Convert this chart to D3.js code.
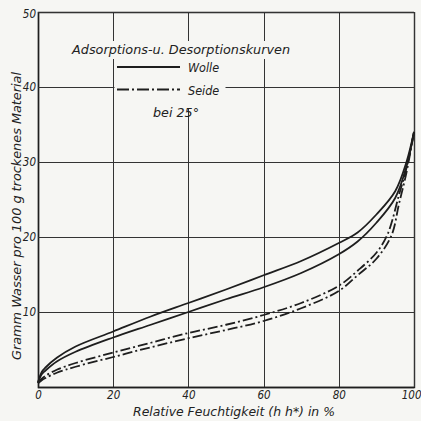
<!DOCTYPE html>
<html><head><meta charset="utf-8">
<script src="https://cdn.jsdelivr.net/npm/d3@7/dist/d3.min.js"></script>
<style>
html,body{margin:0;padding:0;background:#f6f6f3;}
text{font-family:"DejaVu Sans Condensed","DejaVu Sans","Liberation Sans Narrow",sans-serif;font-style:italic;fill:#222;}
</style></head>
<body><svg id="c" width="421" height="421"></svg>
<script>
const xTicks = [0, 20, 40, 60, 80, 100];
const yTicks = [0, 10, 20, 30, 40, 50];
const woolDesX = [0, 1, 2, 5, 10, 20, 30, 40, 50, 60, 70, 80, 85, 90, 95, 98, 100];
const woolDesY = [0.6, 2.0, 2.6, 3.9, 5.4, 7.4, 9.4, 11.2, 13.0, 14.9, 16.8, 19.2, 20.6, 23.0, 26.1, 30.0, 34.0];
const woolAdsX = [0, 1, 2, 5, 10, 20, 30, 40, 50, 60, 70, 80, 85, 90, 95, 98, 100];
const woolAdsY = [0.6, 1.7, 2.2, 3.4, 4.7, 6.6, 8.3, 10.0, 11.7, 13.3, 15.2, 17.7, 19.4, 21.9, 25.2, 29.4, 34.0];
const silkDesX = [0, 1, 2, 5, 10, 20, 30, 40, 50, 60, 70, 80, 85, 90, 93, 96, 98, 100];
const silkDesY = [0.5, 1.1, 1.5, 2.3, 3.2, 4.6, 5.9, 7.2, 8.3, 9.6, 11.2, 13.5, 15.5, 17.9, 20.4, 25.6, 29.2, 34.0];
const silkAdsX = [0, 1, 2, 5, 10, 20, 30, 40, 50, 60, 70, 80, 85, 90, 94, 96, 98, 100];
const silkAdsY = [0.5, 0.9, 1.2, 1.9, 2.7, 4.0, 5.3, 6.5, 7.6, 8.8, 10.5, 12.8, 14.9, 17.1, 20.2, 24.4, 28.6, 34.0];
const legendLabels = ["Wolle", "Seide"];
const titleText = "Adsorptions-u. Desorptionskurven";
const tempText = "bei 25°";
const xTitle = "Relative  Feuchtigkeit (h h*) in %";
const yTitle = "Gramm  Wasser  pro  100 g  trockenes  Material";

const svg = d3.select("#c");
const x = d3.scaleLinear().domain([0, 100]).range([38, 414]);
const y = d3.scaleLinear().domain([0, 50]).range([387, 12]);
const ink = "#1e1e1e";
const fam = '"DejaVu Sans Condensed","DejaVu Sans",sans-serif';

// grid via axes
const gx = svg.append("g").attr("transform", `translate(0,${y(0)})`)
  .call(d3.axisBottom(x).tickValues(xTicks).tickSize(-(y(0) - y(50))).tickPadding(5).tickFormat(d => d));
gx.select(".domain").attr("stroke", ink).attr("stroke-width", 1.4);
gx.selectAll(".tick line").attr("stroke", "#333").attr("stroke-width", 1);
gx.selectAll(".tick text").attr("font-size", 11.5).attr("fill", "#222").attr("dy", "0.6em")
  .attr("font-family", fam).attr("font-style", "italic")
  .filter(d => d === 100).attr("text-anchor", "end").attr("dx", 7);

const gy = svg.append("g").attr("transform", `translate(${x(0)},0)`)
  .call(d3.axisLeft(y).tickValues(yTicks.slice(1)).tickSize(-(x(100) - x(0))).tickPadding(2).tickFormat(d => d));
gy.select(".domain").attr("stroke", ink).attr("stroke-width", 1.4);
gy.selectAll(".tick line").attr("stroke", "#333").attr("stroke-width", 1);
gy.selectAll(".tick text").attr("font-size", 11.5).attr("fill", "#222")
  .attr("font-family", fam).attr("font-style", "italic");
gy.selectAll(".tick text").filter(d => d === 50).attr("dy", "0.5em");
svg.selectAll(".tick line").attr("shape-rendering", "crispEdges");

// legend backgrounds (interrupt the grid)
svg.append("rect").attr("x", 70).attr("y", 41).attr("width", 226).attr("height", 18).attr("fill", "#f6f6f3");
svg.append("rect").attr("x", 114.5).attr("y", 59).attr("width", 111).attr("height", 50).attr("fill", "#f6f6f3");

// curves
const line = d3.line().x(d => x(d[0])).y(d => y(d[1])).curve(d3.curveCatmullRom.alpha(0.5));
const series = [
  {xs: woolDesX, ys: woolDesY, dash: null},
  {xs: woolAdsX, ys: woolAdsY, dash: null},
  {xs: silkDesX, ys: silkDesY, dash: "10,3,2,3"},
  {xs: silkAdsX, ys: silkAdsY, dash: "10,3,2,3"}
];
series.forEach(s => {
  svg.append("path").datum(s.xs.map((v, i) => [v, s.ys[i]]))
    .attr("d", line).attr("fill", "none").attr("stroke", ink).attr("stroke-width", 1.8)
    .attr("stroke-linejoin", "round").attr("stroke-dasharray", s.dash);
});

// legend
svg.append("text").attr("x", 72).attr("y", 54).attr("font-size", 13)
  .attr("textLength", 218).attr("lengthAdjust", "spacingAndGlyphs").text(titleText);
svg.append("line").attr("x1", 117).attr("x2", 180).attr("y1", 67).attr("y2", 67).attr("stroke", ink).attr("stroke-width", 1.8);
svg.append("line").attr("x1", 117).attr("x2", 180).attr("y1", 89.5).attr("y2", 89.5).attr("stroke", ink).attr("stroke-width", 1.8)
  .attr("stroke-dasharray", "12,3,2,3");
svg.append("text").attr("x", 188).attr("y", 72).attr("font-size", 12.5).text(legendLabels[0]);
svg.append("text").attr("x", 188).attr("y", 95).attr("font-size", 12.5).text(legendLabels[1]);
svg.append("text").attr("x", 153).attr("y", 117).attr("font-size", 12.5)
  .attr("textLength", 46).attr("lengthAdjust", "spacingAndGlyphs").text(tempText);

// axis titles
svg.append("text").attr("x", 133).attr("y", 416).attr("font-size", 13)
  .attr("textLength", 202).attr("lengthAdjust", "spacingAndGlyphs").text(xTitle);
svg.append("text").attr("transform", "translate(21,360) rotate(-90)").attr("font-size", 12.5)
  .attr("textLength", 288).attr("lengthAdjust", "spacingAndGlyphs").text(yTitle);
</script></body></html>
